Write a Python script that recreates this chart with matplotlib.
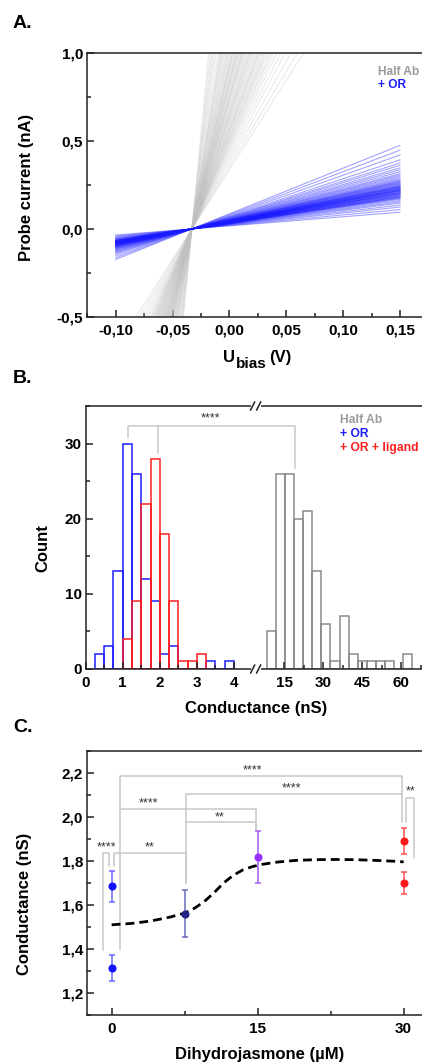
import numpy as np
import matplotlib
matplotlib.use('Agg')
import matplotlib.pyplot as plt
from matplotlib.ticker import MultipleLocator, FixedLocator, FuncFormatter
import matplotlib.transforms as mtransforms

plt.rcParams['font.family'] = ['Liberation Sans', 'DejaVu Sans']
plt.rcParams['font.weight'] = 'bold'
plt.rcParams['axes.linewidth'] = 1.1
plt.rcParams['axes.edgecolor'] = '#222222'

# ---------------- data ----------------
# Panel A: I-V traces (lines through common crossing point)
iv_bias_v = [-0.10, 0.15]
iv_zero_v = -0.033
halfab_cond_ns = [10.2, 10.8, 11.5, 12.2, 12.8, 13.4, 13.9, 14.3, 14.6, 15.0, 15.3, 15.6,
                  15.8, 16.2, 16.5, 16.9, 17.0, 17.3, 17.6, 18.0, 18.4, 18.8, 19.1, 19.5,
                  19.8, 20.0, 20.4, 20.9, 21.3, 21.8, 22.2, 22.5, 22.7, 23.1, 23.6, 24.0,
                  24.5, 25.0, 25.3, 25.6, 26.1, 26.7, 27.3, 27.9, 28.0, 28.5, 29.2, 30.0,
                  30.8, 31.7, 32.5, 33.6, 34.8, 36.0, 37.5, 38.6, 39.7, 41.0, 43.5, 47.0,
                  50.5, 54.0, 57.5, 62.0, 68.0]
or_cond_ns = [0.52, 0.60, 0.68, 0.74, 0.80, 0.84, 0.88, 0.92, 0.95, 0.96, 0.98, 1.00,
              1.00, 1.02, 1.04, 1.05, 1.06, 1.08, 1.10, 1.10, 1.12, 1.12, 1.14, 1.15,
              1.17, 1.18, 1.19, 1.20, 1.20, 1.22, 1.23, 1.24, 1.25, 1.27, 1.28, 1.29,
              1.30, 1.32, 1.33, 1.34, 1.36, 1.38, 1.40, 1.42, 1.44, 1.46, 1.48, 1.50,
              1.53, 1.56, 1.60, 1.64, 1.68, 1.72, 1.78, 1.84, 1.90, 1.98, 2.05, 2.15,
              2.30, 2.45, 2.60]

# Panel B: histograms
or_bin_left = [0.25, 0.50, 0.75, 1.00, 1.25, 1.50, 1.75, 2.00, 2.25, 2.50, 2.75, 3.00, 3.25, 3.50, 3.75]
or_counts = [2, 3, 13, 30, 26, 12, 9, 2, 3, 0, 0, 0, 1, 0, 1]
lig_bin_left = [1.00, 1.25, 1.50, 1.75, 2.00, 2.25, 2.50, 2.75, 3.00]
lig_counts = [4, 9, 22, 28, 18, 9, 1, 1, 2]
small_bin_width = 0.25
halfab_bin_left = [8.25, 11.75, 15.25, 18.75, 22.25, 25.75, 29.25, 32.75, 36.25, 39.75,
                   43.25, 46.75, 50.25, 53.75, 57.25, 60.75]
halfab_counts = [5, 26, 26, 20, 21, 13, 6, 1, 7, 2, 1, 1, 1, 1, 0, 2]
halfab_bin_width = 3.5
b_xticks = [0, 1, 2, 3, 4, 15, 30, 45, 60]

# Panel C: dose response
conc_um = [0, 0, 7.5, 15, 30, 30]
cond_ns = [1.685, 1.312, 1.561, 1.817, 1.891, 1.701]
cond_err = [0.070, 0.059, 0.105, 0.119, 0.060, 0.051]
pt_colors = ['#1010ff', '#1010ff', '#22228a', '#9a30ff', '#ff1a1a', '#ff1a1a']
err_colors = ['#6a6aff', '#6a6aff', '#6a6ab8', '#a65af5', '#ff5050', '#ff5050']
fit_x = [0, 2, 4, 6, 7.5, 8.5, 9.5, 10.5, 11.5, 12.5, 13.5, 14.5, 15.5, 17, 19, 21, 23, 25, 27, 29, 30]
fit_y = [1.510, 1.516, 1.527, 1.545, 1.563, 1.585, 1.615, 1.655, 1.700, 1.735, 1.760, 1.775,
         1.785, 1.795, 1.803, 1.806, 1.807, 1.806, 1.803, 1.799, 1.796]
c_brackets = [
    ([-0.86, -0.86, -0.24, -0.24], [1.397, 1.835, 1.835, 1.778], '****', -0.58, 1.862),
    ([0.27, 0.27, 7.6, 7.6], [1.778, 1.835, 1.835, 1.699], '**', 3.94, 1.862),
    ([0.85, 0.85, 29.79, 29.79], [1.397, 2.186, 2.186, 1.979], '****', 14.45, 2.213),
    ([0.85, 14.83, 14.83], [2.035, 2.035, 1.944], '****', 3.77, 2.063),
    ([7.6, 7.6, 29.79], [1.699, 2.103, 2.103], '****', 18.49, 2.129),
    ([7.6, 14.83, 14.83], [1.979, 1.979, 1.944], '**', 11.13, 1.998),
    ([30.24, 30.24, 31.06, 31.06], [1.979, 2.088, 2.088, 1.813], '**', 30.7, 2.114),
]

# ---------------- figure ----------------
W, H = 422, 1063
fig = plt.figure(figsize=(W / 100, H / 100), dpi=100)


def rect(l, t, r, b):
    return [l / W, 1 - b / H, (r - l) / W, (b - t) / H]


def fx(x):
    return x / W


def fy(y):
    return 1 - y / H


TICK_FS = 11
LAB_FS = 12
BR_COL = '#c8c8c8'
STAR_FS = 9


def style(ax, xpad=5.0, ypad=3.0):
    ax.tick_params(which='major', direction='in', length=5, width=1.1,
                   labelsize=TICK_FS, color='#222222')
    ax.tick_params(which='minor', direction='in', length=3, width=1.1, color='#222222')
    ax.tick_params(axis='x', which='both', pad=xpad, top=False)
    ax.tick_params(axis='y', which='both', pad=ypad, right=False)


def comma(fmt):
    def f(v, p):
        s = format(v, fmt).replace('.', ',')
        if s.startswith('-') and float(s[1:].replace(',', '.')) == 0:
            s = s[1:]
        return s
    return FuncFormatter(f)


# ---- Panel A ----
axA = fig.add_axes(rect(87.3, 53.3, 428.4, 316.7))
V = np.array(iv_bias_v)
for g in halfab_cond_ns:
    axA.plot(V, g * (V - iv_zero_v), color='#c0c0c0', lw=0.7, alpha=0.38)
for g in or_cond_ns:
    axA.plot(V, g * (V - iv_zero_v), color='#1a1aff', lw=0.8, alpha=0.4)
axA.set_xlim(-0.125, 0.175)
axA.set_ylim(-0.5, 1.0)
axA.xaxis.set_major_locator(MultipleLocator(0.05))
axA.xaxis.set_minor_locator(MultipleLocator(0.025))
axA.yaxis.set_major_locator(MultipleLocator(0.5))
axA.yaxis.set_minor_locator(MultipleLocator(0.25))
axA.xaxis.set_major_formatter(comma('.2f'))
axA.yaxis.set_major_formatter(comma('.1f'))
style(axA)
fig.text(fx(378), fy(75), 'Half Ab', color='#9a9a9a', fontsize=8.6, ha='left', va='baseline')
fig.text(fx(378), fy(88.5), '+ OR', color='#1a1aff', fontsize=8.6, ha='left', va='baseline')

# ---- Panel B (broken x axis through a piecewise-linear scale) ----
seg_x = [-100.0, 0.0, 4.45, 6.8, 200.0]
seg_u = [-3700.0, 0.0, 164.65, 177.3, 177.3 + 193.2 * 2.59]


def fwd(x):
    return np.interp(x, seg_x, seg_u)


def inv(u):
    return np.interp(u, seg_u, seg_x)


axB = fig.add_axes(rect(85.7, 406, 427, 669))
axB.set_xscale('function', functions=(fwd, inv))
axB.bar(or_bin_left, or_counts, width=small_bin_width, align='edge', fill=False,
        edgecolor='#1e1eff', lw=1.1)
axB.bar(lig_bin_left, lig_counts, width=small_bin_width, align='edge', fill=False,
        edgecolor='#ff1e1e', lw=1.1)
axB.bar(halfab_bin_left, halfab_counts, width=halfab_bin_width, align='edge', fill=False,
        edgecolor='#8a8a8a', lw=1.1)
axB.set_xlim(0, 70)
axB.set_ylim(0, 35)
axB.xaxis.set_major_locator(FixedLocator(b_xticks))
axB.xaxis.set_minor_locator(FixedLocator([0.5, 1.5, 2.5, 3.5, 22.5, 37.5, 52.5, 67.5]))
axB.xaxis.set_major_formatter(FuncFormatter(lambda v, p: f"{v:.0f}"))
axB.yaxis.set_major_locator(MultipleLocator(10))
axB.yaxis.set_minor_locator(MultipleLocator(5))
style(axB)
# significance bracket
axB.plot([1.15, 1.15, 19.0, 19.0], [30.8, 32.4, 32.4, 26.8], color=BR_COL, lw=1.1)
axB.plot([1.94, 1.94], [28.8, 32.4], color=BR_COL, lw=1.1)
axB.text(3.38, 33.3, '****', ha='center', va='center', fontsize=STAR_FS, fontweight='normal',
         color='#333333')
# axis break marks
tb = mtransforms.blended_transform_factory(axB.transData, axB.transAxes)
for yy in (0.0, 1.0):
    axB.plot([4.75, 6.05], [yy, yy], color='white', lw=2.2, transform=tb,
             clip_on=False, zorder=6)
    for xc in (4.85, 5.96):
        axB.plot([xc - 0.37, xc + 0.37], [yy - 0.015, yy + 0.015], color='#222222',
                 lw=1.1, transform=tb, clip_on=False, zorder=7)
fig.text(fx(340), fy(423), 'Half Ab', color='#9a9a9a', fontsize=8.7, ha='left', va='baseline')
fig.text(fx(340), fy(437), '+ OR', color='#1e1eff', fontsize=8.7, ha='left', va='baseline')
fig.text(fx(340), fy(450.5), '+ OR + ligand', color='#ff1e1e', fontsize=8.7, ha='left',
         va='baseline')

# ---- Panel C ----
axC = fig.add_axes(rect(87.3, 751, 428, 1015))
for xs, ys, lab, tx, ty in c_brackets:
    axC.plot(xs, ys, color=BR_COL, lw=1.1, clip_on=False)
    axC.text(tx, ty, lab, ha='center', va='center', fontsize=STAR_FS, fontweight='normal',
             color='#333333', clip_on=False)
axC.plot(fit_x, fit_y, color='black', lw=2.0, ls=(0, (3.2, 1.8)))
for x, y, e, pc, ec in zip(conc_um, cond_ns, cond_err, pt_colors, err_colors):
    axC.errorbar([x], [y], yerr=[e], fmt='none', ecolor=ec, elinewidth=1.1, capsize=2.5,
                 capthick=1.1)
    axC.plot([x], [y], 'o', color=pc, ms=4.8, mec=pc)
axC.set_xlim(-2.5, 32.5)
axC.set_ylim(1.1, 2.3)
axC.xaxis.set_major_locator(FixedLocator([0, 15, 30]))
axC.xaxis.set_minor_locator(FixedLocator([7.5, 22.5]))
axC.yaxis.set_major_locator(MultipleLocator(0.2))
axC.yaxis.set_minor_locator(MultipleLocator(0.1))
axC.yaxis.set_major_formatter(comma('.1f'))
style(axC)

# ---- labels ----
fig.text(fx(13), fy(28), 'A.', fontsize=14, ha='left', va='baseline')
fig.text(fx(13), fy(383), 'B.', fontsize=14, ha='left', va='baseline')
fig.text(fx(13), fy(732), 'C.', fontsize=14, ha='left', va='baseline')

fig.text(fx(27), fy(187), 'Probe current (nA)', rotation=90, fontsize=LAB_FS,
         ha='center', va='center')
fig.text(fx(222.5), fy(361.5), 'U', fontsize=LAB_FS, ha='left', va='baseline')
fig.text(fx(235.5), fy(367.5), 'bias', fontsize=11, ha='left', va='baseline')
fig.text(fx(269), fy(361.5), '(V)', fontsize=LAB_FS, ha='left', va='baseline')

fig.text(fx(43), fy(548), 'Count', rotation=90, fontsize=LAB_FS, ha='center', va='center')
fig.text(fx(256), fy(709), 'Conductance (nS)', fontsize=LAB_FS, ha='center', va='center')

fig.text(fx(25), fy(904), 'Conductance (nS)', rotation=90, fontsize=LAB_FS,
         ha='center', va='center')
fig.text(fx(260), fy(1055), 'Dihydrojasmone (\u00b5M)', fontsize=LAB_FS, ha='center',
         va='center')

fig.savefig('out.png', dpi=100)
